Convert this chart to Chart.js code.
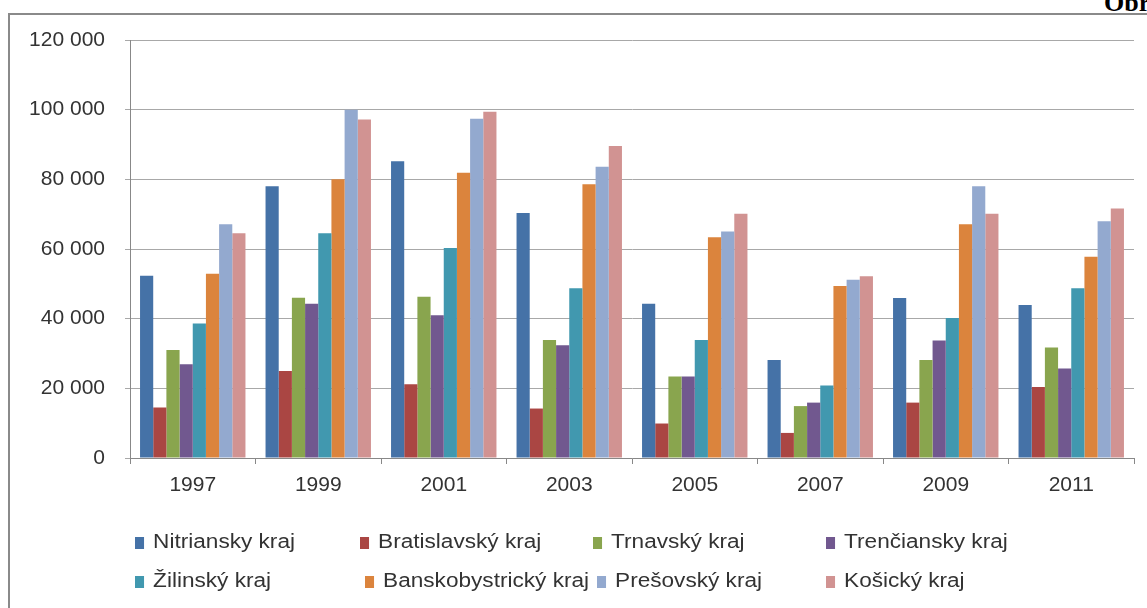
<!DOCTYPE html>
<html>
<head>
<meta charset="utf-8">
<script src="https://cdn.jsdelivr.net/npm/chart.js@4.4.0/dist/chart.umd.min.js"></script>
<style>
    body { margin: 0; background: #fff; width: 1147px; height: 608px; overflow: hidden; position: relative; }
    #frame { position: absolute; left: 8px; top: 13px; width: 1160px; height: 620px; border: 2px solid #8a8a8a; box-sizing: border-box; }
    #obr { position: absolute; left: 1104px; top: -12px; font: bold 26px "Liberation Serif", serif; color: #000; }
    #growthChart { position: absolute; left: 0; top: 0; }
    .leg { position: absolute; font: 20px "Liberation Sans", sans-serif; color: #333; white-space: nowrap; line-height: 20px;
           transform: scaleX(1.13); transform-origin: left center; }
    .leg span { display: inline-block; width: 8px; height: 12px; margin-right: 8px; vertical-align: -1px; }
</style>
</head>
<body>
<div id="frame"></div>
<div id="obr">Obr.</div>
<canvas id="growthChart" width="1147" height="608"></canvas>
<div id="legend"></div>
<script>
const years = ['1997', '1999', '2001', '2003', '2005', '2007', '2009', '2011'];
const regions = ['Nitriansky kraj', 'Bratislavský kraj', 'Trnavský kraj', 'Trenčiansky kraj',
                 'Žilinský kraj', 'Banskobystrický kraj', 'Prešovský kraj', 'Košický kraj'];
const colors = ['#4572a7', '#aa4643', '#89a54e', '#71588f', '#4198af', '#db843d', '#93a9cf', '#d19392'];
const yTicks = [0, 20000, 40000, 60000, 80000, 100000, 120000];

// values per region, one entry per year
const nitriansky      = [52300, 78000, 85200, 70300, 44300, 28100, 45900, 43900];
const bratislavsky    = [14500, 25000, 21200, 14200,  9900,  7200, 15900, 20400];
const trnavsky        = [31000, 46000, 46300, 33900, 23400, 14900, 28100, 31700];
const trenciansky     = [26900, 44300, 41000, 32400, 23400, 15900, 33700, 25700];
const zilinsky        = [38600, 64500, 60300, 48700, 33900, 20800, 40200, 48700];
const banskobystricky = [52900, 80000, 81900, 78600, 63400, 49400, 67100, 57800];
const presovsky       = [67100, 100000, 97400, 83600, 65000, 51200, 78000, 68000];
const kosicky         = [64500, 97200, 99400, 89600, 70100, 52200, 70100, 71600];

const series = [nitriansky, bratislavsky, trnavsky, trenciansky, zilinsky, banskobystricky, presovsky, kosicky];

// legend positions (column x per slot)
const legendSlots = [[135, 531], [360, 531], [593, 531], [826, 531],
                     [135, 570], [365, 570], [597, 570], [826, 570]];

function formatTick(v) {
    return String(v).replace(/\B(?=(\d{3})+(?!\d))/g, ' ');
}

const font = { family: '"Liberation Sans", sans-serif', size: 21 };

new Chart(document.getElementById('growthChart').getContext('2d'), {
    type: 'bar',
    data: {
        labels: years,
        datasets: series.map((data, i) => ({
            label: regions[i],
            data: data,
            backgroundColor: colors[i],
            borderWidth: 0,
            categoryPercentage: 0.84,
            barPercentage: 1.0
        }))
    },
    options: {
        responsive: false,
        animation: false,
        devicePixelRatio: 1,
        layout: { padding: { left: 10, right: 13, top: 40, bottom: 0 } },
        plugins: { legend: { display: false }, tooltip: { enabled: false } },
        scales: {
            x: {
                offset: true,
                grid: { offset: true, drawOnChartArea: false, drawTicks: true, tickLength: 6, color: '#888' },
                border: { color: '#888', width: 1 },
                ticks: { color: '#333', font: font, padding: 9 },
                afterFit: (s) => { s.height = 150; }
            },
            y: {
                min: 0,
                max: 120000,
                afterBuildTicks: (s) => { s.ticks = yTicks.map(v => ({ value: v })); },
                grid: { color: '#a8a8a8', tickLength: 5 },
                border: { color: '#888', width: 1 },
                ticks: { color: '#333', font: font, padding: 20, callback: (v) => formatTick(v) },
                afterFit: (s) => { s.width = 120; }
            }
        }
    }
});

const legend = document.getElementById('legend');
regions.forEach((name, i) => {
    const d = document.createElement('div');
    d.className = 'leg';
    d.style.left = legendSlots[i][0] + 'px';
    d.style.top = legendSlots[i][1] + 'px';
    d.innerHTML = '<span style="background:' + colors[i] + '"></span>' + name;
    legend.appendChild(d);
});
</script>
</body>
</html>
